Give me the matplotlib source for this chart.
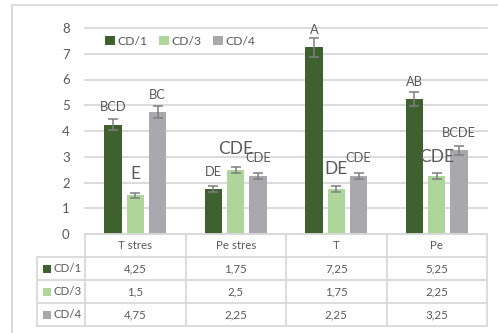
import matplotlib
matplotlib.use("Agg")
import matplotlib.pyplot as plt
import matplotlib.transforms as mtransforms
from matplotlib.lines import Line2D
from matplotlib.patches import Rectangle
import numpy as np

plt.rcParams['font.family'] = ['Lato', 'DejaVu Sans']

# ---------------- data ----------------
categories = ["T stres", "Pe stres", "T", "Pe"]
series_names = ["CD/1", "CD/3", "CD/4"]
cd1 = [4.25, 1.75, 7.25, 5.25]
cd3 = [1.5, 2.5, 1.75, 2.25]
cd4 = [4.75, 2.25, 2.25, 3.25]
err_cd1 = [0.22, 0.10, 0.37, 0.27]
err_cd3 = [0.09, 0.12, 0.10, 0.13]
err_cd4 = [0.23, 0.13, 0.13, 0.17]
table_cd1 = ["4,25", "1,75", "7,25", "5,25"]
table_cd3 = ["1,5", "2,5", "1,75", "2,25"]
table_cd4 = ["4,75", "2,25", "2,25", "3,25"]

# significance letters (text, category index, x offset, y position, large?)
letters_cd1 = ["BCD", "DE", "A", "AB"]
letters_cd3 = ["E", "CDE", "DE", "CDE"]
letters_cd4 = ["BC", "CDE", "CDE", "BCDE"]
letter_y_cd1 = [4.93, 2.41, 7.92, 5.90]
letter_y_cd3 = [2.33, 3.30, 2.52, 2.99]
letter_y_cd4 = [5.40, 2.95, 2.95, 3.92]

colors = ["#3F6130", "#AED69B", "#A9A9AD"]
text_color = "#595959"
grid_color = "#D9D9D9"

W, H = 498, 333
fig = plt.figure(figsize=(W / 100, H / 100), dpi=100)
fx = lambda px: px / W
fy = lambda py: 1 - py / H

ax = fig.add_axes([fx(85), fy(234), (487 - 85) / W, (234 - 28) / H])
x = np.arange(len(categories))
offsets = [-0.222, 0.0, 0.222]
bw = 0.174
series = [cd1, cd3, cd4]
errs = [err_cd1, err_cd3, err_cd4]
for i in range(3):
    ax.bar(x + offsets[i], series[i], width=bw, color=colors[i], zorder=3,
           yerr=errs[i], label=series_names[i],
           error_kw=dict(ecolor="#7F7F7F", elinewidth=1.1, capsize=3.6, capthick=1.1, zorder=4))

ax.set_xlim(-0.5, 3.5)
ax.set_ylim(0, 8)
ax.set_yticks(range(0, 9))
ax.set_xticks([])
for s in ax.spines.values():
    s.set_visible(False)
ax.yaxis.grid(True, color=grid_color, lw=1.3, zorder=0)
ax.tick_params(axis='y', length=0, pad=11, labelsize=9.5, labelcolor=text_color)
for gl in ax.get_ygridlines():
    gl.set_clip_on(False)

# letters
all_letters = [letters_cd1, letters_cd3, letters_cd4]
all_ly = [letter_y_cd1, letter_y_cd3, letter_y_cd4]
large = [[False] * 4, [True, True, True, True], [False] * 4]
for i in range(3):
    for j in range(4):
        fs = 12.5 if large[i][j] else 9.3
        ax.text(x[j] + offsets[i], all_ly[i][j], all_letters[i][j], ha='center', va='center',
                fontsize=fs, color=text_color, zorder=5, clip_on=False)

# legend
leg = ax.legend(loc='upper left', bbox_to_anchor=((105 - 85) / 402, (234 - 36) / 206),
                ncol=3, frameon=False, fontsize=8.7, handlelength=0.8, handleheight=0.8,
                handletextpad=0.2, columnspacing=1.0, borderpad=0, borderaxespad=0,
                labelcolor=text_color)
for h in leg.legend_handles:
    h.set_linewidth(0)

# ---------------- data table ----------------
blend = mtransforms.blended_transform_factory(ax.transData, fig.transFigure)
row_tops = [234, 257, 280, 303, 326]
tlw = 1.3
# horizontal lines
fig.add_artist(Line2D([fx(85), fx(487)], [fy(234), fy(234)], color=grid_color, lw=tlw))
for py in row_tops[1:]:
    fig.add_artist(Line2D([fx(37), fx(487)], [fy(py), fy(py)], color=grid_color, lw=tlw))
# vertical lines
for b in [-0.5, 0.5, 1.5, 2.5, 3.5]:
    ax.add_line(Line2D([b, b], [fy(234), fy(326)], transform=blend, color=grid_color, lw=tlw, clip_on=False))
fig.add_artist(Line2D([fx(37), fx(37)], [fy(257), fy(326)], color=grid_color, lw=tlw))

# header
for j, c in enumerate(categories):
    ax.text(x[j], fy(245.5), c, transform=blend, ha='center', va='center',
            fontsize=8.3, color=text_color, clip_on=False)
table_rows = [table_cd1, table_cd3, table_cd4]
for r in range(3):
    cy = (row_tops[r + 1] + row_tops[r + 2]) / 2
    for j in range(4):
        ax.text(x[j], fy(cy), table_rows[r][j], transform=blend, ha='center', va='center',
                fontsize=8.3, color=text_color, clip_on=False)
    fig.add_artist(Rectangle((fx(43), fy(cy + 4)), 8 / W, 8 / H, transform=fig.transFigure,
                             facecolor=colors[r], edgecolor='none'))
    fig.text(fx(53), fy(cy), series_names[r], ha='left', va='center', fontsize=8.3, color=text_color)

# outer frame
fig.add_artist(Line2D([fx(12), fx(12)], [fy(5), 0], color=grid_color, lw=1.3))
fig.add_artist(Line2D([fx(12), 1], [fy(5), fy(5)], color=grid_color, lw=1.3))

fig.savefig("out.png", dpi=100, facecolor="white")
